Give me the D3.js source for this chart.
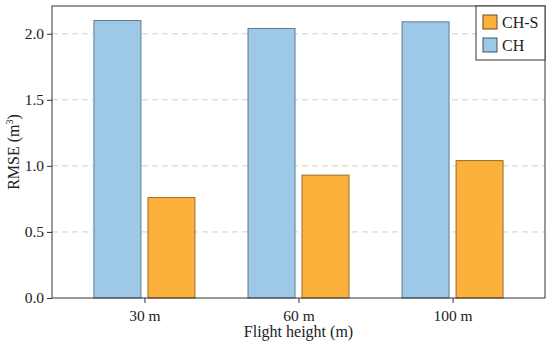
<!DOCTYPE html>
<html lang="en">
<head>
<meta charset="utf-8">
<title>RMSE by flight height</title>
<script src="https://d3js.org/d3.v7.min.js"></script>
</head>
<body style="margin:0; background:#fff">
<script>
// data
var heights = ["30 m", "60 m", "100 m"];
var seriesNames = ["CH", "CH-S"];
var chValues = [2.10, 2.04, 2.09];
var chsValues = [0.76, 0.93, 1.04];
var yTicks = [0, 0.5, 1.0, 1.5, 2.0];

var w = 550, h = 343;
var margin = {top: 6, right: 5, bottom: 45, left: 52};
var iw = w - margin.left - margin.right;
var ih = h - margin.top - margin.bottom;
var font = "Liberation Serif";
var fs = 15.5;

var colors = {"CH": "#9dc8e8", "CH-S": "#fbb13b"};
var strokes = {"CH": "#5f7b92", "CH-S": "#9c6d2c"};

var svg = d3.select("body").append("svg")
  .attr("width", w).attr("height", h)
  .attr("font-family", font);
var g = svg.append("g").attr("transform", "translate(" + margin.left + "," + margin.top + ")");

var x = d3.scalePoint().domain(heights).range([0, iw]).padding(0.6);
var y = d3.scaleLinear().domain([0, 2.21]).range([ih, 0]);

// grid
g.selectAll(".grid").data(yTicks.filter(function(d) { return d > 0; }))
  .enter().append("line")
  .attr("x1", 0).attr("x2", iw)
  .attr("y1", function(d) { return y(d); })
  .attr("y2", function(d) { return y(d); })
  .attr("stroke", "#cfcfcf").attr("stroke-width", 1)
  .attr("stroke-dasharray", "6,4");

var barW = 47, gap = 7;
var rows = heights.map(function(hh, i) { return {h: hh, CH: chValues[i], "CH-S": chsValues[i]}; });

seriesNames.forEach(function(s, k) {
  g.selectAll(".bar-" + k).data(rows).enter().append("rect")
    .attr("x", function(d) { return k === 0 ? x(d.h) - gap / 2 - barW : x(d.h) + gap / 2; })
    .attr("y", function(d) { return y(d[s]); })
    .attr("width", barW)
    .attr("height", function(d) { return ih - y(d[s]); })
    .attr("fill", colors[s])
    .attr("stroke", strokes[s]).attr("stroke-width", 1);
});

// axes
var yAxis = g.append("g").call(d3.axisLeft(y).tickValues(yTicks).tickFormat(d3.format(".1f")).tickSize(5).tickSizeOuter(0));
var xAxis = g.append("g").attr("transform", "translate(0," + ih + ")")
  .call(d3.axisBottom(x).tickSize(5).tickSizeOuter(0));
[yAxis, xAxis].forEach(function(a) {
  a.attr("font-family", font).attr("font-size", fs);
  a.select(".domain").remove();
  a.selectAll("line").attr("stroke", "#333");
  a.selectAll("text").attr("fill", "#222");
});
yAxis.selectAll("text").attr("x", -8);
xAxis.selectAll("text").attr("y", 12);

// frame
g.append("rect").attr("width", iw).attr("height", ih)
  .attr("fill", "none").attr("stroke", "#333").attr("stroke-width", 1);

// labels
var yl = svg.append("text")
  .attr("transform", "translate(19," + (margin.top + ih / 2) + ") rotate(-90)")
  .attr("text-anchor", "middle").attr("font-size", 16).attr("fill", "#222");
yl.append("tspan").text("RMSE (m");
yl.append("tspan").attr("dy", -6).attr("font-size", 10).text("3");
yl.append("tspan").attr("dy", 6).text(")");

svg.append("text")
  .attr("x", margin.left + x("60 m")).attr("y", 337)
  .attr("text-anchor", "middle").attr("font-size", 16).attr("fill", "#222")
  .text("Flight height (m)");

// legend
var lg = g.append("g").attr("transform", "translate(" + (iw - 69) + ",0)");
lg.append("rect").attr("width", 69).attr("height", 54)
  .attr("fill", "#fff").attr("stroke", "#333").attr("stroke-width", 1);
["CH-S", "CH"].forEach(function(s, i) {
  var row = lg.append("g").attr("transform", "translate(7," + (9 + i * 23) + ")");
  row.append("rect").attr("width", 14).attr("height", 14)
    .attr("fill", colors[s]).attr("stroke", s === "CH" ? "#3d5568" : "#6b4a1c");
  row.append("text").attr("x", 19).attr("y", 12.5).attr("font-size", 16).attr("fill", "#222").text(s);
});
</script>
</body>
</html>
